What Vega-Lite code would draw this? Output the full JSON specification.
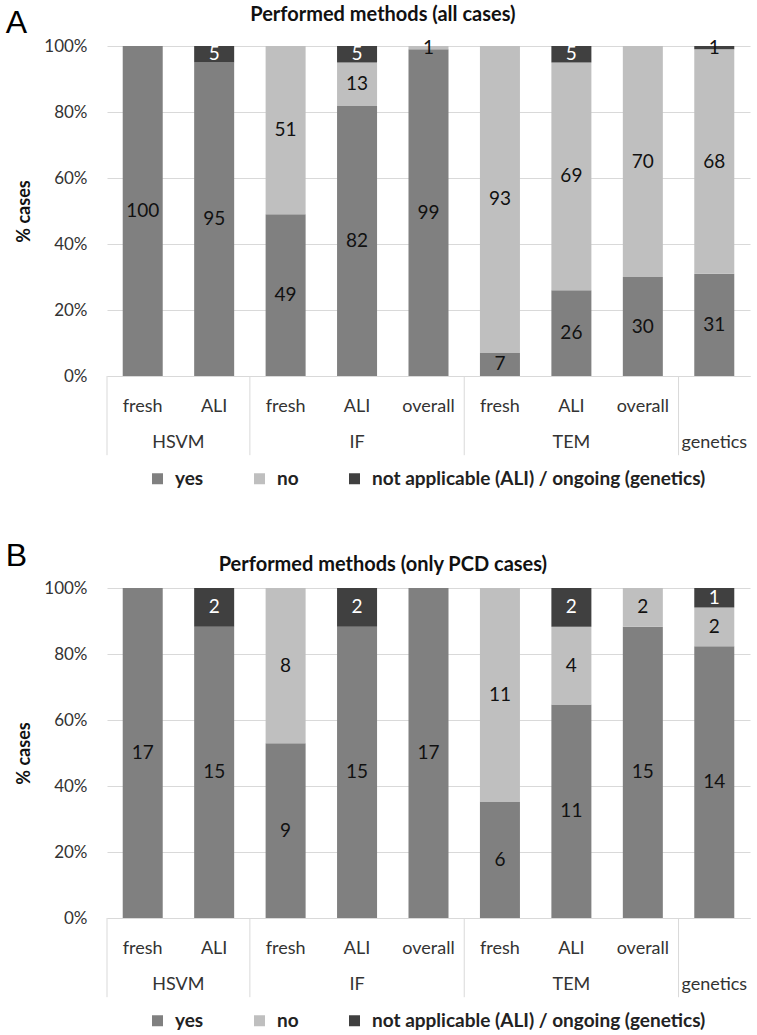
{
  "$schema": "https://vega.github.io/schema/vega-lite/v6.json",
  "background": "white",
  "padding": {"left": 5, "top": 5, "right": 5, "bottom": 5},
  "config": {
    "font": "Lato",
    "view": {"stroke": null},
    "axisY": {"grid": true, "gridColor": "#d9d9d9", "domain": false, "ticks": false, "labelPadding": 20, "labelFontSize": 17, "labelColor": "#333", "titleFontSize": 18, "titleFontWeight": "bold", "titleColor": "#111", "titlePadding": 10},
    "axisX": {"domainColor": "#d9d9d9", "ticks": false, "labelPadding": 21, "labelFontSize": 18, "labelColor": "#333", "labelAngle": 0, "grid": false},
    "legend": {"orient": "none", "legendX": 41, "legendY": 423, "direction": "horizontal", "title": null, "symbolType": "square", "symbolSize": 121, "symbolStrokeWidth": 0, "labelFontSize": 19, "labelFontWeight": "bold", "labelColor": "#222", "labelLimit": 600, "labelOffset": 8, "columnPadding": 46}
  },
  "datasets": {
    "a": [
      {"group": "HSVM", "key": "HSVM|fresh", "status": "yes", "n": 100},
      {"group": "HSVM", "key": "HSVM|ALI", "status": "yes", "n": 95},
      {"group": "HSVM", "key": "HSVM|ALI", "status": "na", "n": 5},
      {"group": "IF", "key": "IF|fresh", "status": "yes", "n": 49},
      {"group": "IF", "key": "IF|fresh", "status": "no", "n": 51},
      {"group": "IF", "key": "IF|ALI", "status": "yes", "n": 82},
      {"group": "IF", "key": "IF|ALI", "status": "no", "n": 13},
      {"group": "IF", "key": "IF|ALI", "status": "na", "n": 5},
      {"group": "IF", "key": "IF|overall", "status": "yes", "n": 99},
      {"group": "IF", "key": "IF|overall", "status": "no", "n": 1},
      {"group": "TEM", "key": "TEM|fresh", "status": "yes", "n": 7},
      {"group": "TEM", "key": "TEM|fresh", "status": "no", "n": 93},
      {"group": "TEM", "key": "TEM|ALI", "status": "yes", "n": 26},
      {"group": "TEM", "key": "TEM|ALI", "status": "no", "n": 69},
      {"group": "TEM", "key": "TEM|ALI", "status": "na", "n": 5},
      {"group": "TEM", "key": "TEM|overall", "status": "yes", "n": 30},
      {"group": "TEM", "key": "TEM|overall", "status": "no", "n": 70},
      {"group": "genetics", "key": "genetics|", "status": "yes", "n": 31},
      {"group": "genetics", "key": "genetics|", "status": "no", "n": 68},
      {"group": "genetics", "key": "genetics|", "status": "na", "n": 1}
    ],
    "b": [
      {"group": "HSVM", "key": "HSVM|fresh", "status": "yes", "n": 17},
      {"group": "HSVM", "key": "HSVM|ALI", "status": "yes", "n": 15},
      {"group": "HSVM", "key": "HSVM|ALI", "status": "na", "n": 2},
      {"group": "IF", "key": "IF|fresh", "status": "yes", "n": 9},
      {"group": "IF", "key": "IF|fresh", "status": "no", "n": 8},
      {"group": "IF", "key": "IF|ALI", "status": "yes", "n": 15},
      {"group": "IF", "key": "IF|ALI", "status": "na", "n": 2},
      {"group": "IF", "key": "IF|overall", "status": "yes", "n": 17},
      {"group": "TEM", "key": "TEM|fresh", "status": "yes", "n": 6},
      {"group": "TEM", "key": "TEM|fresh", "status": "no", "n": 11},
      {"group": "TEM", "key": "TEM|ALI", "status": "yes", "n": 11},
      {"group": "TEM", "key": "TEM|ALI", "status": "no", "n": 4},
      {"group": "TEM", "key": "TEM|ALI", "status": "na", "n": 2},
      {"group": "TEM", "key": "TEM|overall", "status": "yes", "n": 15},
      {"group": "TEM", "key": "TEM|overall", "status": "no", "n": 2},
      {"group": "genetics", "key": "genetics|", "status": "yes", "n": 14},
      {"group": "genetics", "key": "genetics|", "status": "no", "n": 2},
      {"group": "genetics", "key": "genetics|", "status": "na", "n": 1}
    ],
    "seps": [
      {"key": "HSVM|fresh"}, {"key": "IF|fresh"}, {"key": "TEM|fresh"}, {"key": "genetics|"}
    ],
    "groups": [
      {"group": "HSVM", "key": "HSVM|ALI"},
      {"group": "IF", "key": "IF|ALI"},
      {"group": "TEM", "key": "TEM|ALI"},
      {"group": "genetics", "key": "genetics|"}
    ]
  },
  "resolve": {"scale": {"color": "independent"}, "legend": {"color": "independent"}},
  "spacing": 51,
  "vconcat": [
    {
      "title": {"text": "A", "anchor": "start", "frame": "bounds", "fontSize": 32, "font": "Liberation Sans", "fontWeight": "normal", "color": "#000", "dx": -10, "offset": -35},
      "resolve": {"scale": {"color": "independent"}},
      "vconcat": [
        {
          "title": {"text": "Performed methods (all cases)", "anchor": "middle", "frame": "bounds", "fontSize": 20, "fontWeight": "bold", "color": "#111", "offset": 12},
          "width": 643,
          "height": 330,
          "layer": [
            {
              "data": {"name": "a"},
              "mark": {"type": "bar", "width": {"band": 0.56}},
              "encoding": {
                "x": {"field": "key", "type": "nominal", "title": null, "axis": {"labelExpr": "split(datum.value, '|')[1]"}, "scale": {"domain": ["HSVM|fresh", "HSVM|ALI", "IF|fresh", "IF|ALI", "IF|overall", "TEM|fresh", "TEM|ALI", "TEM|overall", "genetics|"], "paddingInner": 0, "paddingOuter": 0}},
                "y": {"field": "n", "type": "quantitative", "stack": "normalize", "title": "% cases", "axis": {"values": [0, 0.2, 0.4, 0.6, 0.8, 1], "format": ".0%"}, "scale": {"domain": [0, 1], "nice": false}},
                "color": {"field": "status", "type": "nominal", "scale": {"domain": ["yes", "no", "na"], "range": ["#808080", "#bfbfbf", "#404040"]}, "legend": {"labelExpr": "datum.label == 'na' ? 'not applicable (ALI) / ongoing (genetics)' : datum.label"}},
                "order": {"field": "status", "sort": "descending"}
              }
            },
            {
              "data": {"name": "a"},
              "mark": {"type": "text", "fontSize": 19, "baseline": "middle"},
              "encoding": {
                "x": {"field": "key", "type": "nominal", "title": null, "axis": {"labelExpr": "split(datum.value, '|')[1]"}},
                "y": {"field": "n", "type": "quantitative", "stack": "normalize", "bandPosition": 0.5, "title": "% cases", "axis": {"values": [0, 0.2, 0.4, 0.6, 0.8, 1], "format": ".0%"}},
                "detail": {"field": "status"},
                "order": {"field": "status", "sort": "descending"},
                "color": {"condition": {"test": "datum.status == 'na' && datum.n > 1", "value": "#ffffff"}, "value": "#111111"},
                "text": {"field": "n", "type": "quantitative"}
              }
            },
            {
              "data": {"name": "seps"},
              "mark": {"type": "rule", "color": "#d9d9d9", "strokeWidth": 1},
              "encoding": {
                "x": {"field": "key", "type": "nominal", "bandPosition": 0, "title": null, "axis": {"labelExpr": "split(datum.value, '|')[1]"}},
                "y": {"datum": 0, "type": "quantitative", "title": "% cases", "axis": {"values": [0, 0.2, 0.4, 0.6, 0.8, 1], "format": ".0%"}},
                "y2": {"datum": -0.24}
              }
            },
            {
              "data": {"name": "groups"},
              "transform": [{"filter": "datum.group == 'HSVM'"}],
              "mark": {"type": "text", "fontSize": 18, "color": "#333", "baseline": "middle"},
              "encoding": {
                "x": {"field": "key", "type": "nominal", "bandPosition": 0, "title": null, "axis": {"labelExpr": "split(datum.value, '|')[1]"}},
                "y": {"datum": -0.203, "type": "quantitative", "title": "% cases", "axis": {"values": [0, 0.2, 0.4, 0.6, 0.8, 1], "format": ".0%"}},
                "text": {"field": "group"}
              }
            },
            {
              "data": {"name": "groups"},
              "transform": [{"filter": "datum.group != 'HSVM'"}],
              "mark": {"type": "text", "fontSize": 18, "color": "#333", "baseline": "middle"},
              "encoding": {
                "x": {"field": "key", "type": "nominal", "bandPosition": 0.5, "title": null, "axis": {"labelExpr": "split(datum.value, '|')[1]"}},
                "y": {"datum": -0.203, "type": "quantitative", "title": "% cases", "axis": {"values": [0, 0.2, 0.4, 0.6, 0.8, 1], "format": ".0%"}},
                "text": {"field": "group"}
              }
            }
          ]
        }
      ]
    },
    {
      "title": {"text": "B", "anchor": "start", "frame": "bounds", "fontSize": 32, "font": "Liberation Sans", "fontWeight": "normal", "color": "#000", "dx": -10, "offset": -18},
      "resolve": {"scale": {"color": "independent"}},
      "vconcat": [
        {
          "title": {"text": "Performed methods (only PCD cases)", "anchor": "middle", "frame": "bounds", "fontSize": 20, "fontWeight": "bold", "color": "#111", "offset": 4},
          "width": 643,
          "height": 330,
          "layer": [
            {
              "data": {"name": "b"},
              "mark": {"type": "bar", "width": {"band": 0.56}},
              "encoding": {
                "x": {"field": "key", "type": "nominal", "title": null, "axis": {"labelExpr": "split(datum.value, '|')[1]"}, "scale": {"domain": ["HSVM|fresh", "HSVM|ALI", "IF|fresh", "IF|ALI", "IF|overall", "TEM|fresh", "TEM|ALI", "TEM|overall", "genetics|"], "paddingInner": 0, "paddingOuter": 0}},
                "y": {"field": "n", "type": "quantitative", "stack": "normalize", "title": "% cases", "axis": {"values": [0, 0.2, 0.4, 0.6, 0.8, 1], "format": ".0%"}, "scale": {"domain": [0, 1], "nice": false}},
                "color": {"field": "status", "type": "nominal", "scale": {"domain": ["yes", "no", "na"], "range": ["#808080", "#bfbfbf", "#404040"]}, "legend": {"labelExpr": "datum.label == 'na' ? 'not applicable (ALI) / ongoing (genetics)' : datum.label"}},
                "order": {"field": "status", "sort": "descending"}
              }
            },
            {
              "data": {"name": "b"},
              "mark": {"type": "text", "fontSize": 19, "baseline": "middle"},
              "encoding": {
                "x": {"field": "key", "type": "nominal", "title": null, "axis": {"labelExpr": "split(datum.value, '|')[1]"}},
                "y": {"field": "n", "type": "quantitative", "stack": "normalize", "bandPosition": 0.5, "title": "% cases", "axis": {"values": [0, 0.2, 0.4, 0.6, 0.8, 1], "format": ".0%"}},
                "detail": {"field": "status"},
                "order": {"field": "status", "sort": "descending"},
                "color": {"condition": {"test": "datum.status == 'na'", "value": "#ffffff"}, "value": "#111111"},
                "text": {"field": "n", "type": "quantitative"}
              }
            },
            {
              "data": {"name": "seps"},
              "mark": {"type": "rule", "color": "#d9d9d9", "strokeWidth": 1},
              "encoding": {
                "x": {"field": "key", "type": "nominal", "bandPosition": 0, "title": null, "axis": {"labelExpr": "split(datum.value, '|')[1]"}},
                "y": {"datum": 0, "type": "quantitative", "title": "% cases", "axis": {"values": [0, 0.2, 0.4, 0.6, 0.8, 1], "format": ".0%"}},
                "y2": {"datum": -0.24}
              }
            },
            {
              "data": {"name": "groups"},
              "transform": [{"filter": "datum.group == 'HSVM'"}],
              "mark": {"type": "text", "fontSize": 18, "color": "#333", "baseline": "middle"},
              "encoding": {
                "x": {"field": "key", "type": "nominal", "bandPosition": 0, "title": null, "axis": {"labelExpr": "split(datum.value, '|')[1]"}},
                "y": {"datum": -0.203, "type": "quantitative", "title": "% cases", "axis": {"values": [0, 0.2, 0.4, 0.6, 0.8, 1], "format": ".0%"}},
                "text": {"field": "group"}
              }
            },
            {
              "data": {"name": "groups"},
              "transform": [{"filter": "datum.group != 'HSVM'"}],
              "mark": {"type": "text", "fontSize": 18, "color": "#333", "baseline": "middle"},
              "encoding": {
                "x": {"field": "key", "type": "nominal", "bandPosition": 0.5, "title": null, "axis": {"labelExpr": "split(datum.value, '|')[1]"}},
                "y": {"datum": -0.203, "type": "quantitative", "title": "% cases", "axis": {"values": [0, 0.2, 0.4, 0.6, 0.8, 1], "format": ".0%"}},
                "text": {"field": "group"}
              }
            }
          ]
        }
      ]
    }
  ]
}
